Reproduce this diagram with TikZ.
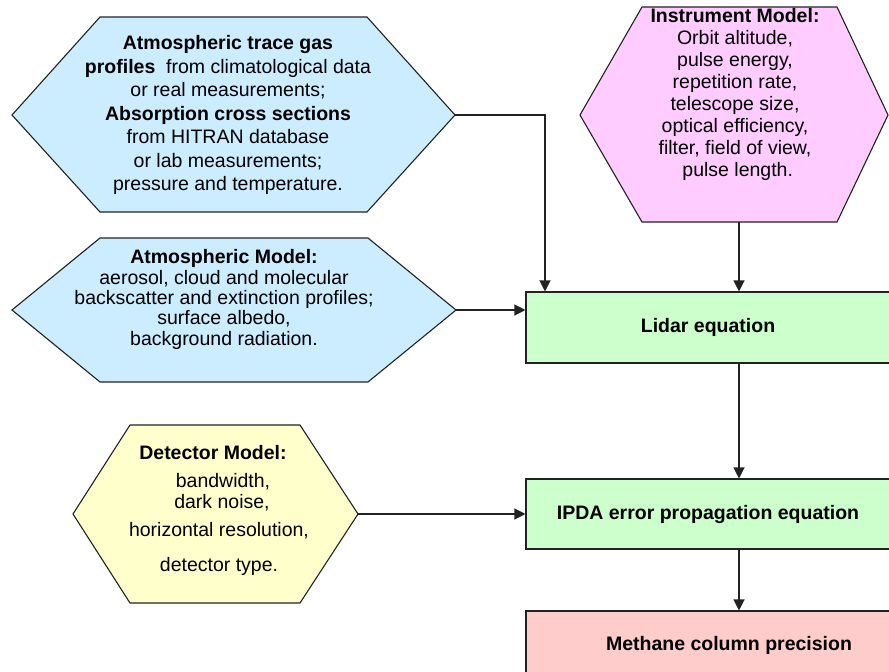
\documentclass[tikz,border=0pt]{standalone}
\usepackage{fontspec}
\setmainfont{Liberation Sans}
\usetikzlibrary{arrows.meta}
\definecolor{hexblue}{HTML}{CCECFF}
\definecolor{hexpink}{HTML}{FFCCFF}
\definecolor{hexyellow}{HTML}{FFFFCC}
\definecolor{boxgreen}{HTML}{CCFFCC}
\definecolor{boxred}{HTML}{FFCCCC}
\definecolor{edge}{HTML}{222222}
\tikzset{
  hexshape/.style={draw=edge, line width=1.1pt, line join=miter},
  hextext/.style={align=center, inner sep=0pt, font=\fontsize{19.5}{23.5}\selectfont},
  eqbox/.style={draw=edge, line width=1.1pt, rectangle, inner sep=0pt,
     minimum width=364pt, font=\fontsize{19.5}{21}\selectfont\bfseries},
  conn/.style={draw=edge, line width=1.2pt, -{Triangle[length=11pt,width=11pt]}},
}
\begin{document}
\begin{tikzpicture}[x=1pt,y=-1pt]
\useasboundingbox (0,0) rectangle (889,672);
\clip (0,0) rectangle (889,672);
\fill[white] (0,0) rectangle (889,672);

% Hexagon 1: trace gas profiles
\coordinate (h1W) at (12,115);
\coordinate (h1E) at (455,115);
\filldraw[hexshape, fill=hexblue] (h1W) -- (100,17) -- (367,17) -- (h1E) -- (367,212) -- (100,212) -- cycle;
\node[hextext] (h1t) at (228,115) {\textbf{Atmospheric trace gas}\\
\textbf{profiles} \ from climatological data\\
or real measurements;\\
\textbf{Absorption cross sections}\\
from HITRAN database\\
or lab measurements;\\
pressure and temperature.};

% Hexagon 2: instrument model
\coordinate (h2W) at (580,115);
\coordinate (h2E) at (888,115);
\coordinate (h2S) at (739,222);
\filldraw[hexshape, fill=hexpink] (h2W) -- (642,7) -- (837,7) -- (h2E) -- (837,222) -- (642,222) -- cycle;
\node[hextext, font=\fontsize{19.5}{22}\selectfont] (h2t) at (735,94) {\textbf{Instrument Model:}\\
Orbit altitude,\\
pulse energy,\\
repetition rate,\\
telescope size,\\
optical efficiency,\\
filter, field of view,\\
\ pulse length.};

% Hexagon 3: atmospheric model
\coordinate (h3W) at (12,310);
\coordinate (h3E) at (456,310);
\filldraw[hexshape, fill=hexblue] (h3W) -- (100,238) -- (368,238) -- (h3E) -- (368,382) -- (100,382) -- cycle;
\node[hextext, font=\fontsize{19.5}{20.3}\selectfont] (h3t) at (224,299.5) {\textbf{Atmospheric Model:}\\
aerosol, cloud and molecular\\
backscatter and extinction profiles;\\
surface albedo,\\
background radiation.};

% Hexagon 4: detector model
\coordinate (h4W) at (73,514);
\coordinate (h4E) at (358,514);
\filldraw[hexshape, fill=hexyellow] (h4W) -- (130,425) -- (300,425) -- (h4E) -- (300,603) -- (130,603) -- cycle;
\node[hextext, font=\fontsize{19.5}{21}\selectfont] (h4t) at (219,510) {\textbf{Detector Model:}\hspace*{12pt}\\[7pt]
\hspace*{8pt}bandwidth,\\
\hspace*{6pt}dark noise,\\[7pt]
horizontal resolution,\\[14pt]
detector type.};

% Equation boxes
\node[eqbox, fill=boxgreen, minimum height=71pt] (lidar) at (708,327.5) {Lidar equation};
\node[eqbox, fill=boxgreen, minimum height=70pt] (ipda) at (708,514) {IPDA error propagation equation};
\node[eqbox, fill=boxred, minimum height=68pt] (meth) at (708,645) {\hspace*{42pt}Methane column precision};

% Connectors
\coordinate (colA) at (545,0);
\coordinate (colB) at (739,0);
\draw[conn] (h1E) -| (lidar.north -| colA);
\draw[conn] (h2S) -- (lidar.north -| colB);
\draw[conn] (h3E) -- (lidar.west |- h3E);
\draw[conn] (lidar.south -| colB) -- (ipda.north -| colB);
\draw[conn] (h4E) -- (ipda.west |- h4E);
\draw[conn] (ipda.south -| colB) -- (meth.north -| colB);
\end{tikzpicture}
\end{document}
